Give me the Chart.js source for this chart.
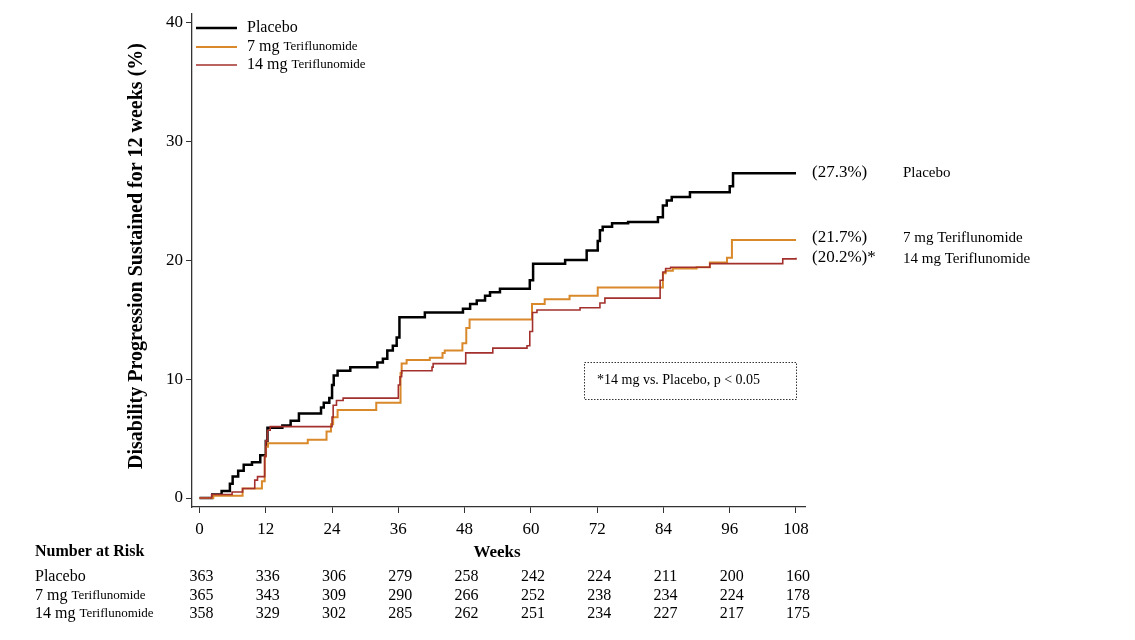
<!DOCTYPE html>
<html>
<head>
<meta charset="utf-8">
<script src="https://cdn.jsdelivr.net/npm/chart.js@4/dist/chart.umd.min.js"></script>
<style>
  html, body { margin: 0; padding: 0; background: #fff; }
  #wrap { width: 1135px; height: 640px; }
</style>
</head>
<body>
<div id="wrap"><canvas id="kmChart" width="1135" height="640"></canvas></div>
<script>
// ---------------- data ----------------
var weekTicks = [0, 12, 24, 36, 48, 60, 72, 84, 96, 108];
var pctTicks = [0, 10, 20, 30, 40];

var placeboWeeks = [0, 2.3, 4, 5.5, 6, 7, 8, 9.5, 11, 12, 12.3, 15, 16.5, 18, 22, 22.5, 23.5, 24, 24.3, 25, 27.3,
  32.2, 33.2, 34, 35, 35.7, 36.2, 40.8, 47.7, 49, 50.2, 51.7, 52.6, 54.4, 59.8, 60.4, 66.2, 70.1, 72.1, 72.5,
  73, 74.7, 77.6, 83, 83.9, 84.6, 85.5, 88.8, 96, 96.6, 108];
var placeboPct = [0, 0.3, 0.6, 1.2, 1.8, 2.3, 2.8, 3.0, 3.6, 4.8, 5.9, 6.1, 6.5, 7.1, 7.6, 8.0, 8.4, 9.5, 10.3, 10.7, 11.0,
  11.4, 11.7, 12.4, 12.8, 13.5, 15.2, 15.6, 15.9, 16.3, 16.6, 17.0, 17.3, 17.6, 18.3, 19.7, 20.0, 20.8, 21.6, 22.5,
  22.8, 23.1, 23.2, 23.6, 24.6, 25.0, 25.3, 25.7, 26.2, 27.3, 27.3];

var mg7Weeks = [0, 2.5, 7.8, 11.3, 11.8, 12, 12.4, 19.6, 23, 23.8, 24.2, 25, 32, 36.4, 36.6, 37.5, 41.7, 44, 44.4,
  47.6, 48.3, 48.9, 60.2, 62.5, 67, 72.1, 83.9, 84.4, 85.7, 90, 92.4, 95.5, 96.4, 108];
var mg7Pct = [0, 0.2, 0.8, 1.4, 3.5, 4.3, 4.6, 4.9, 5.6, 6.2, 6.8, 7.4, 8.0, 10.5, 11.3, 11.6, 11.8, 12.2, 12.4,
  13.0, 14.3, 15.0, 16.3, 16.7, 17.0, 17.7, 18.9, 19.1, 19.3, 19.4, 19.8, 20.2, 21.7, 21.7];

var mg14Weeks = [0, 2.2, 5.9, 7.8, 10, 10.5, 11.8, 12, 12.3, 12.8, 24, 24.2, 24.8, 26, 36, 36.3, 36.6, 42.1, 42.3,
  48.2, 53.1, 59.3, 59.8, 60.3, 61.1, 68.9, 72.5, 73.4, 83.4, 83.9, 84.4, 85.3, 92.4, 105.6, 108];
var mg14Pct = [0, 0.3, 0.5, 0.8, 1.5, 1.8, 3.5, 4.8, 5.7, 6.0, 6.8, 7.8, 8.2, 8.4, 9.5, 10.2, 10.7, 11.0, 11.3,
  12.2, 12.6, 12.8, 14.0, 15.6, 15.8, 16.0, 16.4, 16.8, 18.3, 19.0, 19.3, 19.4, 19.7, 20.1, 20.2];

var riskPlacebo = [363, 336, 306, 279, 258, 242, 224, 211, 200, 160];
var risk7mg = [365, 343, 309, 290, 266, 252, 238, 234, 224, 178];
var risk14mg = [358, 329, 302, 285, 262, 251, 234, 227, 217, 175];

function pts(ws, ps) {
  return ws.map(function (w, i) { return { x: w, y: ps[i] }; });
}

var SERIF = '"Liberation Serif", "Times New Roman", serif';

// draw text pieces one after another (mixed font sizes)
function drawRuns(ctx, x, y, runs) {
  runs.forEach(function (r) {
    ctx.font = r.font;
    ctx.fillText(r.text, x, y);
    x += ctx.measureText(r.text).width;
  });
}

var extras = {
  id: 'extras',
  afterDraw: function (chart) {
    var ctx = chart.ctx;
    var xs = chart.scales.x;
    ctx.save();
    ctx.fillStyle = '#000';
    ctx.textBaseline = 'middle';

    // y title
    ctx.save();
    ctx.translate(137, 256);
    ctx.rotate(-Math.PI / 2);
    ctx.textAlign = 'center';
    ctx.font = 'bold 20px ' + SERIF;
    ctx.fillText('Disability Progression Sustained for 12 weeks (%)', 0, 0);
    ctx.restore();

    // x title
    ctx.textAlign = 'center';
    ctx.font = 'bold 17px ' + SERIF;
    ctx.fillText('Weeks', 497, 553);

    // legend
    ctx.textAlign = 'left';
    var leg = [
      { c: '#000', w: 2.5, y: 28, runs: [{ text: 'Placebo', font: '16px ' + SERIF }] },
      { c: '#D9882A', w: 2.2, y: 47, runs: [{ text: '7 mg ', font: '16px ' + SERIF }, { text: 'Teriflunomide', font: '13px ' + SERIF }] },
      { c: '#A3302C', w: 1.3, y: 65, runs: [{ text: '14 mg ', font: '16px ' + SERIF }, { text: 'Teriflunomide', font: '13px ' + SERIF }] }
    ];
    leg.forEach(function (l) {
      ctx.strokeStyle = l.c;
      ctx.lineWidth = l.w;
      ctx.beginPath();
      ctx.moveTo(196, l.y);
      ctx.lineTo(237, l.y);
      ctx.stroke();
      drawRuns(ctx, 247, l.y, l.runs);
    });

    // end labels
    ctx.font = '17px ' + SERIF;
    ctx.fillText('(27.3%)', 812, 173);
    ctx.fillText('(21.7%)', 812, 238);
    ctx.fillText('(20.2%)*', 812, 258);
    ctx.font = '15px ' + SERIF;
    ctx.fillText('Placebo', 903, 173);
    ctx.fillText('7 mg Teriflunomide', 903, 238);
    ctx.fillText('14 mg Teriflunomide', 903, 259);

    // p-value box
    ctx.strokeStyle = '#333';
    ctx.lineWidth = 1;
    ctx.setLineDash([1.5, 1.5]);
    ctx.strokeRect(584.5, 362.5, 212, 37);
    ctx.setLineDash([]);
    ctx.font = '14px ' + SERIF;
    ctx.fillText('*14 mg vs. Placebo, p < 0.05', 597, 380);

    // number at risk table
    ctx.font = 'bold 16px ' + SERIF;
    ctx.fillText('Number at Risk', 35, 552);
    var rows = [
      { y: 577, runs: [{ text: 'Placebo', font: '16px ' + SERIF }], vals: riskPlacebo },
      { y: 596, runs: [{ text: '7 mg ', font: '16px ' + SERIF }, { text: 'Teriflunomide', font: '13px ' + SERIF }], vals: risk7mg },
      { y: 614, runs: [{ text: '14 mg ', font: '16px ' + SERIF }, { text: 'Teriflunomide', font: '13px ' + SERIF }], vals: risk14mg }
    ];
    rows.forEach(function (r) {
      ctx.textAlign = 'left';
      drawRuns(ctx, 35, r.y, r.runs);
      ctx.textAlign = 'center';
      ctx.font = '16px ' + SERIF;
      r.vals.forEach(function (v, i) {
        ctx.fillText(String(v), xs.getPixelForValue(weekTicks[i]) + 2, r.y);
      });
    });
    ctx.restore();
  }
};

var ctx = document.getElementById('kmChart');

new Chart(ctx, {
  type: 'line',
  data: {
    datasets: [
      { label: '14 mg Teriflunomide', data: pts(mg14Weeks, mg14Pct), borderColor: '#A3302C', borderWidth: 1.6, stepped: true, pointRadius: 0 },
      { label: '7 mg Teriflunomide', data: pts(mg7Weeks, mg7Pct), borderColor: '#D9882A', borderWidth: 2, stepped: true, pointRadius: 0 },
      { label: 'Placebo', data: pts(placeboWeeks, placeboPct), borderColor: '#000', borderWidth: 2.5, stepped: true, pointRadius: 0 }
    ]
  },
  options: {
    responsive: false,
    animation: false,
    layout: { padding: { left: 0, right: 330, top: 12, bottom: 0 } },
    plugins: { legend: { display: false }, tooltip: { enabled: false } },
    scales: {
      x: {
        type: 'linear',
        min: -1.36,
        max: 109.63,
        afterBuildTicks: function (s) { s.ticks = weekTicks.map(function (v) { return { value: v }; }); },
        afterFit: function (s) { s.height = 133; },
        grid: { drawOnChartArea: false, tickLength: 6, color: '#333' },
        border: { color: '#333', width: 1.3 },
        ticks: { color: '#000', padding: 6, maxRotation: 0, font: { family: SERIF, size: 17 } }
      },
      y: {
        min: -0.755,
        max: 40.755,
        afterBuildTicks: function (s) { s.ticks = pctTicks.map(function (v) { return { value: v }; }); },
        afterFit: function (s) { s.width = 192; },
        grid: { drawOnChartArea: false, tickLength: 6, color: '#333' },
        border: { color: '#333', width: 1.3 },
        ticks: { color: '#000', padding: 3, font: { family: SERIF, size: 17 } }
      }
    }
  },
  plugins: [extras]
});
</script>
</body>
</html>
